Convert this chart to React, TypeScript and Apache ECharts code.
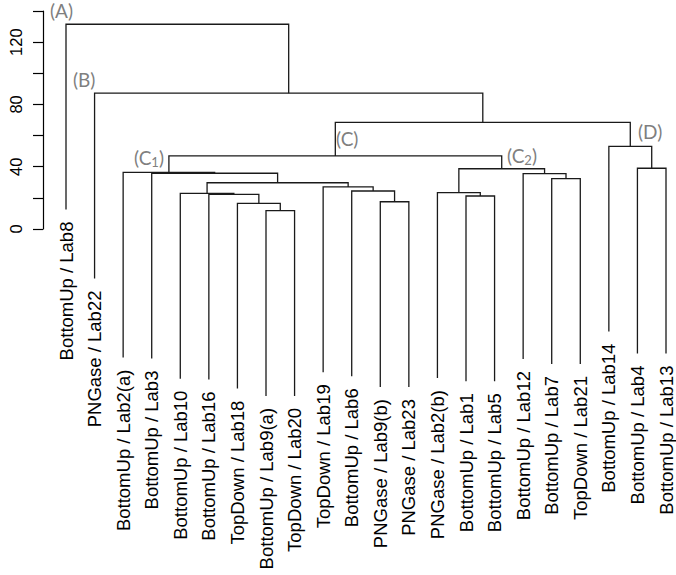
import React, { useEffect, useRef } from 'react';
import * as echarts from 'echarts';

// Leaves in dendrogram order (left to right)
const leafLabels = [
  'BottomUp / Lab8', 'PNGase / Lab22', 'BottomUp / Lab2(a)', 'BottomUp / Lab3',
  'BottomUp / Lab10', 'BottomUp / Lab16', 'TopDown / Lab18', 'BottomUp / Lab9(a)',
  'TopDown / Lab20', 'TopDown / Lab19', 'BottomUp / Lab6', 'PNGase / Lab9(b)',
  'PNGase / Lab23', 'PNGase / Lab2(b)', 'BottomUp / Lab1', 'BottomUp / Lab5',
  'BottomUp / Lab12', 'BottomUp / Lab7', 'TopDown / Lab21', 'BottomUp / Lab14',
  'BottomUp / Lab4', 'BottomUp / Lab13',
];

// hclust-style merge table: negative = leaf position (1-based), positive = earlier merge (1-based)
const mergeLeft = [-8, -7, -12, -15, -6, -5, -14, -11, -10, 6, -18, -17, -4, -3, 7, -21, 14, -20, 17, -2, -1];
const mergeRight = [-9, 1, -13, -16, 2, 5, 4, 3, 8, 9, -19, 11, 10, 13, 12, -22, 15, 16, 18, 19, 20];
const mergeHeight = [11.8, 16.5, 17.5, 21.2, 22.3, 22.9, 23.3, 24.4, 27.0, 29.7, 32.3, 35.5, 35.8, 36.4, 38.7, 39.0, 46.9, 53.1, 68.5, 87.2, 131.5];

// leaf hang (in height units)
const hang = 119;

// y axis
const yMin = 0;
const yMax = 140;
const yInterval = 20;
const yLabelStep = 40;

const lineColor = '#1a1a1a';
const labelFont = '"Liberation Sans", Arial, sans-serif';
const annoFont = 'Lato, "Open Sans", sans-serif';
const annoColor = '#7f7f7f';

function nodeX(id: number): number {
  if (id < 0) return -id;
  return (nodeX(mergeLeft[id - 1]) + nodeX(mergeRight[id - 1])) / 2;
}

function childBottom(id: number, parentH: number): number {
  if (id < 0) return parentH - hang;
  return mergeHeight[id - 1];
}

export default function App() {
  const ref = useRef<HTMLDivElement>(null);

  useEffect(() => {
    const chart = echarts.init(ref.current!, null, { renderer: 'svg' });

    const renderItem = (params: any, api: any) => {
      const i = params.dataIndex;
      const h = mergeHeight[i];
      const l = mergeLeft[i];
      const r = mergeRight[i];
      const lx = nodeX(l);
      const rx = nodeX(r);
      const lb = childBottom(l, h);
      const rb = childBottom(r, h);
      const p1 = api.coord([lx, lb]);
      const p2 = api.coord([lx, h]);
      const p3 = api.coord([rx, h]);
      const p4 = api.coord([rx, rb]);
      const children: any[] = [
        {
          type: 'polyline',
          shape: { points: [p1, p2, p3, p4] },
          style: { stroke: lineColor, lineWidth: 1.3, fill: 'none' },
        },
      ];
      [[l, p1], [r, p4]].forEach(([id, p]: any) => {
        if (id < 0) {
          children.push({
            type: 'text',
            x: p[0],
            y: p[1] + 12,
            rotation: Math.PI / 2,
            style: {
              text: leafLabels[-id - 1],
              align: 'right',
              verticalAlign: 'middle',
              fontSize: 18.5,
              fontFamily: labelFont,
              fill: '#000',
            },
          });
        }
      });
      return { type: 'group', children };
    };

    const sub = (main: string, s: string) => ({
      text: `{a|${main}}{s|${s}}{a|)}`,
      rich: {
        a: { fontSize: 19, fontFamily: annoFont, fill: annoColor, lineHeight: 22, verticalAlign: 'middle' },
        s: { fontSize: 13, fontFamily: annoFont, fill: annoColor, lineHeight: 12, verticalAlign: 'bottom' },
      },
      verticalAlign: 'middle',
      align: 'left',
    });

    const anno = (text: string, x: number, y: number) => ({
      type: 'text',
      x,
      y,
      style: { text, fontSize: 19, fontFamily: annoFont, fill: annoColor, align: 'left', verticalAlign: 'middle' },
    });

    const option: any = {
      animation: false,
      backgroundColor: '#fff',
      grid: { left: 66, right: 10, top: 11, height: 218, containLabel: false },
      xAxis: {
        type: 'value',
        min: 1,
        max: leafLabels.length,
        show: false,
      },
      yAxis: {
        type: 'value',
        min: yMin,
        max: yMax,
        interval: yInterval,
        offset: 23,
        axisLine: { show: true, lineStyle: { color: '#000', width: 1.2 } },
        axisTick: { show: true, length: 10, lineStyle: { color: '#000', width: 1.2 } },
        splitLine: { show: false },
        axisLabel: {
          rotate: 90,
          margin: 19,
          fontSize: 16.5,
          fontFamily: labelFont,
          color: '#000',
          formatter: (v: number) => (v % yLabelStep === 0 ? String(v) : ''),
        },
      },
      series: [
        {
          type: 'custom',
          clip: false,
          renderItem,
          encode: { x: 0, y: 1 },
          data: mergeHeight.map((h, i) => [nodeX(i + 1), h]),
        },
      ],
      graphic: [
        anno('(A)', 50, 10),
        anno('(B)', 73, 79),
        anno('(C)', 336, 138),
        anno('(D)', 638, 131),
        { type: 'text', x: 134, y: 157, style: sub('(C', '1') },
        { type: 'text', x: 507, y: 155, style: sub('(C', '2') },
      ],
    };

    chart.setOption(option);
    return () => chart.dispose();
  }, []);

  return (
    <div
      ref={ref}
      style={{ position: 'fixed', left: 0, top: 0, width: 676, height: 575, background: '#fff' }}
    />
  );
}
